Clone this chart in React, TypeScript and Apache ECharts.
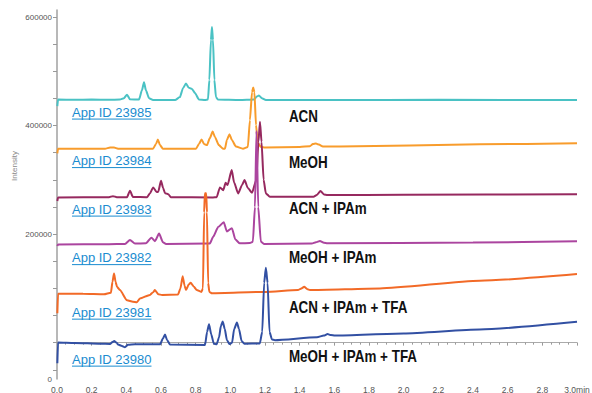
import React, { useEffect, useRef } from "react";
import * as echarts from "echarts";

// Retention time axis (min)
const X_MIN = 0;
const X_MAX = 3.0;
const X_STEP = 0.2;

// Intensity axis
const Y_MIN = -67000;
const Y_MAX = 613000;
const Y_TICKS = [
  -50000, 0, 50000, 100000, 150000, 200000, 250000, 300000, 350000, 400000,
  450000, 500000, 550000, 600000,
];
const Y_LABELS = [Y_MIN, 200000, 400000, 600000];

// Chromatograms: [time (min), intensity]
const ACN: [number, number][] = [
  [0.002, 436000], [0.006, 448000], [0.1, 447500], [0.2, 448000], [0.3, 447500],
  [0.363, 448000], [0.386, 450500], [0.404, 457000], [0.421, 448500], [0.473, 448000],
  [0.49, 465000], [0.502, 480000], [0.513, 465000], [0.531, 450500], [0.554, 447000],
  [0.681, 447000], [0.709, 452500], [0.727, 469000], [0.744, 477500], [0.761, 469500],
  [0.779, 467500], [0.796, 460000], [0.819, 448000], [0.854, 447000], [0.871, 448000],
  [0.879, 484000], [0.888, 557500], [0.894, 581500], [0.9, 557500], [0.908, 484000],
  [0.917, 452500], [0.928, 448000], [1.055, 447000], [1.136, 448000], [1.153, 453500],
  [1.165, 455500], [1.182, 450500], [1.205, 447000], [1.6, 447000], [2.2, 447500],
  [3.0, 447000],
];

const MEOH: [number, number][] = [
  [0.002, 349000], [0.006, 357500], [0.277, 357500], [0.306, 359500], [0.329, 359500],
  [0.352, 357500], [0.554, 357500], [0.571, 366000], [0.582, 374500], [0.594, 364000],
  [0.611, 357500], [0.802, 357500], [0.819, 366000], [0.834, 374500], [0.848, 366000],
  [0.865, 364000], [0.882, 377000], [0.898, 389000], [0.911, 379000], [0.934, 364000],
  [0.957, 357500], [0.969, 357500], [0.98, 373500], [0.995, 384000], [1.009, 373500],
  [1.032, 361500], [1.073, 357500], [1.101, 360500], [1.113, 410000], [1.125, 461500],
  [1.132, 470000], [1.139, 461500], [1.148, 401000], [1.159, 367500], [1.177, 360500],
  [1.2, 359500], [1.401, 360500], [1.459, 362000], [1.476, 366000], [1.494, 367000],
  [1.511, 365000], [1.534, 361500], [1.632, 361500], [2.439, 365500], [3.0, 367500],
];

const ACN_IPAM: [number, number][] = [
  [0.002, 261000], [0.006, 267500], [0.3, 268000], [0.323, 270000], [0.345, 268000],
  [0.404, 268000], [0.421, 280000], [0.438, 268500], [0.52, 268000], [0.536, 275000],
  [0.555, 286000], [0.575, 277500], [0.584, 278000], [0.6, 298500], [0.612, 285000],
  [0.623, 275500], [0.642, 273500], [0.657, 268000], [0.9, 267500], [0.921, 268000],
  [0.94, 286000], [0.959, 281000], [0.973, 294500], [0.984, 290500], [1.008, 318000],
  [1.022, 295000], [1.045, 275000], [1.067, 290000], [1.082, 299500], [1.101, 285000],
  [1.125, 276000], [1.15, 300000], [1.162, 370000], [1.171, 407000], [1.18, 370000],
  [1.192, 300000], [1.205, 275000], [1.228, 269000], [1.48, 269000], [1.499, 272000],
  [1.52, 279500], [1.54, 273000], [1.56, 272000], [2.0, 272500], [3.0, 273500],
];

const MEOH_IPAM: [number, number][] = [
  [0.002, 178000], [0.006, 181000], [0.3, 181500], [0.392, 182000], [0.421, 189000],
  [0.45, 182500], [0.513, 183000], [0.545, 193500], [0.565, 187000], [0.589, 201000],
  [0.611, 185000], [0.629, 182000], [0.871, 182500], [0.882, 182900], [0.901, 195000],
  [0.93, 213000], [0.962, 222000], [0.98, 205000], [1.009, 211000], [1.029, 190000],
  [1.055, 183000], [1.113, 183500], [1.13, 186000], [1.142, 250000], [1.151, 390000],
  [1.161, 250000], [1.176, 186000], [1.194, 182000], [1.47, 182500], [1.494, 185000],
  [1.517, 187500], [1.54, 184000], [1.56, 183000], [2.4, 184500], [3.0, 187000],
];

const ACN_IPAM_TFA: [number, number][] = [
  [0.002, 54000], [0.006, 90300], [0.15, 90000], [0.271, 89000], [0.311, 92000],
  [0.32, 112000], [0.329, 127500], [0.338, 112000], [0.346, 103000], [0.363, 97000],
  [0.404, 78000], [0.438, 75500], [0.461, 74500], [0.479, 81500], [0.536, 88000],
  [0.555, 93000], [0.565, 96800], [0.585, 89000], [0.606, 88000], [0.698, 88500],
  [0.712, 100000], [0.725, 122500], [0.736, 105000], [0.744, 97000], [0.76, 107000],
  [0.771, 110500], [0.79, 103000], [0.806, 97000], [0.833, 93500], [0.842, 100000],
  [0.849, 240000], [0.853, 275500], [0.861, 275500], [0.865, 240000], [0.872, 110000],
  [0.879, 93500], [0.894, 91000], [1.2, 93500], [1.39, 96800], [1.41, 100000],
  [1.426, 102900], [1.445, 98500], [1.459, 97000], [1.863, 100000], [2.439, 114000],
  [3.0, 126300],
];

const MEOH_IPAM_TFA: [number, number][] = [
  [0.002, -38000], [0.006, 400], [0.1, -500], [0.25, -2000], [0.306, -2500],
  [0.32, 1000], [0.33, 2800], [0.345, -500], [0.352, -3500], [0.375, -6000],
  [0.392, -8300], [0.409, -4000], [0.45, -3000], [0.594, -3000], [0.612, 8000],
  [0.623, 15100], [0.635, 5000], [0.652, -3500], [0.854, -4500], [0.866, 20000],
  [0.877, 34000], [0.89, 15000], [0.905, -2000], [0.921, -3000], [0.935, 10000],
  [0.945, 30000], [0.956, 39000], [0.968, 25000], [0.98, 5000], [0.995, -2500],
  [1.01, 0], [1.022, 25000], [1.038, 37000], [1.05, 25000], [1.065, 3000],
  [1.081, -2000], [1.17, -1500], [1.184, 20000], [1.195, 110000], [1.205, 138000],
  [1.215, 110000], [1.226, 20000], [1.24, 6000], [1.257, 4600], [1.5, 10000],
  [1.54, 13000], [1.561, 15700], [1.58, 14000], [1.603, 13000], [2.0, 17000],
  [2.439, 24300], [3.0, 38300],
];

const SOLVENTS = ["ACN", "MeOH", "ACN + IPAm", "MeOH + IPAm", "ACN + IPAm + TFA", "MeOH + IPAm + TFA"];
const APP_IDS = ["App ID 23985", "App ID 23984", "App ID 23983", "App ID 23982", "App ID 23981", "App ID 23980"];
const COLORS = ["#4ac2c4", "#f89c2c", "#96295f", "#ab459f", "#f26a27", "#3250a3"];
const SERIES_DATA = [ACN, MEOH, ACN_IPAM, MEOH_IPAM, ACN_IPAM_TFA, MEOH_IPAM_TFA];

// Annotation anchors, in axis coordinates
const APP_LABEL_T = 0.0865;
const APP_LABEL_V = [424900, 335500, 246100, 156700, 56200, -30400];
const SOLVENT_LABEL_T = 1.338;
const SOLVENT_LABEL_V = [417500, 332700, 247900, 156700, 65400, -25800];

const LINK_COLOR = "#1a8cd0";
const LINK_FONT = '13px "Liberation Sans", Arial, Helvetica, sans-serif';
const SOLVENT_FONT = 'bold 16px "Liberation Sans", Arial, Helvetica, sans-serif';

function measure(text: string, font: string): number {
  const ctx = document.createElement("canvas").getContext("2d");
  if (!ctx) return text.length * 6.6;
  ctx.font = font;
  return ctx.measureText(text).width;
}

export default function App() {
  const ref = useRef<HTMLDivElement>(null);

  useEffect(() => {
    if (!ref.current) return;
    const chart = echarts.init(ref.current, undefined, { renderer: "svg" });

    chart.setOption({
      animation: false,
      backgroundColor: "#ffffff",
      grid: { left: 57, right: 15, top: 10, bottom: 14, containLabel: false, outerBoundsMode: "none" },
      xAxis: {
        type: "value",
        min: X_MIN,
        max: X_MAX,
        interval: X_STEP,
        axisLine: { lineStyle: { color: "#aaaaaa", width: 1 } },
        axisTick: { show: true, length: 3, lineStyle: { color: "#999999" } },
        minorTick: { show: true, splitNumber: 4, length: 2, lineStyle: { color: "#999999" } },
        splitLine: { show: false },
        axisLabel: {
          color: "#555555",
          fontSize: 8.5,
          margin: 6,
          fontFamily: "Liberation Sans, Arial, sans-serif",
          formatter: (v: number) => (Math.abs(v - X_MAX) < 1e-6 ? v.toFixed(1) + "min" : v.toFixed(1)),
        },
      },
      yAxis: {
        type: "value",
        min: Y_MIN,
        max: Y_MAX,
        axisLine: { show: true, lineStyle: { color: "#a0a0a0", width: 1.5 } },
        axisTick: { show: true, length: 4, customValues: Y_TICKS, lineStyle: { color: "#999999" } },
        splitLine: { show: false },
        axisLabel: {
          color: "#555555",
          fontSize: 8,
          margin: 5,
          fontFamily: "Liberation Sans, Arial, sans-serif",
          customValues: Y_LABELS,
          formatter: (v: number) => (v === Y_MIN ? "0" : String(v)),
        },
      },
      series: SERIES_DATA.map((data, i) => ({
        name: SOLVENTS[i],
        type: "line",
        data,
        showSymbol: false,
        smooth: 0.2,
        smoothMonotone: "x",
        lineStyle: { color: COLORS[i], width: 2 },
        itemStyle: { color: COLORS[i] },
        z: 2 + i,
      })),
    });

    const graphics: any[] = [];
    APP_IDS.forEach((text, i) => {
      const [x, y] = chart.convertToPixel({ gridIndex: 0 }, [APP_LABEL_T, APP_LABEL_V[i]]) as number[];
      const w = measure(text, LINK_FONT);
      graphics.push({
        type: "text",
        x,
        y,
        z: 20,
        style: {
          text,
          font: LINK_FONT,
          fill: LINK_COLOR,
          align: "left",
          verticalAlign: "middle",
          textAlign: "left",
          textVerticalAlign: "middle",
        },
      });
      graphics.push({
        type: "line",
        z: 20,
        shape: { x1: x, y1: y + 7, x2: x + w, y2: y + 7 },
        style: { stroke: LINK_COLOR, lineWidth: 1 },
      });
    });
    SOLVENTS.forEach((text, i) => {
      const [x, y] = chart.convertToPixel({ gridIndex: 0 }, [SOLVENT_LABEL_T, SOLVENT_LABEL_V[i]]) as number[];
      graphics.push({
        type: "text",
        x,
        y,
        scaleX: 0.84,
        z: 20,
        style: {
          text,
          font: SOLVENT_FONT,
          fill: "#111111",
          align: "left",
          verticalAlign: "middle",
          textAlign: "left",
          textVerticalAlign: "middle",
        },
      });
    });

    // Vertical axis caption
    graphics.push({
      type: "text",
      x: 14,
      y: 166,
      rotation: Math.PI / 2,
      style: {
        text: "Intensity",
        font: '8px "Liberation Sans", Arial, sans-serif',
        fill: "#888888",
        align: "center",
        verticalAlign: "middle",
        textAlign: "center",
        textVerticalAlign: "middle",
      },
    });

    chart.setOption({ graphic: { elements: graphics } });

    return () => chart.dispose();
  }, []);

  return (
    <div
      ref={ref}
      style={{ position: "fixed", left: 0, top: 0, width: 592, height: 393, background: "#fff" }}
    />
  );
}
